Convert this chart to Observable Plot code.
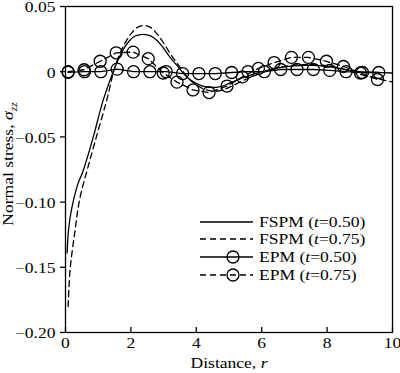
<!DOCTYPE html>
<html>
<head>
<meta charset="utf-8">
<script src="https://cdn.jsdelivr.net/npm/d3@7"></script>
<script src="https://cdn.jsdelivr.net/npm/@observablehq/plot@0.6"></script>
<style>
  html, body { margin: 0; padding: 0; background: #fff; }
  svg { display: block; }
</style>
</head>
<body>
<div id="chart"></div>
<script>
// ---- data ----
const xTicks = [0, 2, 4, 6, 8, 10];
const yTicks = [-0.2, -0.15, -0.1, -0.05, 0, 0.05];
const yTickLabels = ["−0.20", "−0.15", "−0.10", "−0.05", "0", "0.05"];

const fspm050X = [0.05, 0.08, 0.14, 0.24, 0.38, 0.54, 0.85, 1.15, 1.46, 1.7, 1.9, 2.1, 2.3, 2.45, 2.6, 2.8, 3.0, 3.2, 3.4, 3.6, 3.8, 4.0, 4.2, 4.4, 4.6, 4.8, 5.0, 5.5, 6.0, 6.5, 7.0, 7.5, 8.0, 8.5, 9.0, 9.5, 10];
const fspm050Y = [-0.139, -0.125, -0.112, -0.099, -0.086, -0.076, -0.050, -0.022, 0.0, 0.014, 0.022, 0.027, 0.0285, 0.0285, 0.0275, 0.024, 0.018, 0.011, 0.005, -0.001, -0.006, -0.009, -0.011, -0.012, -0.012, -0.011, -0.009, -0.004, 0.0, 0.003, 0.0045, 0.0048, 0.004, 0.002, 0.0, -0.0005, -0.001];

const fspm075X = [0.08, 0.14, 0.29, 0.44, 0.69, 1.0, 1.26, 1.46, 1.6, 1.8, 2.0, 2.2, 2.4, 2.6, 2.8, 3.0, 3.2, 3.4, 3.6, 3.8, 4.0, 4.2, 4.4, 4.6, 4.8, 5.0, 5.5, 6.0, 6.5, 7.0, 7.5, 8.0, 8.5, 9.0, 9.5, 10];
const fspm075Y = [-0.180, -0.152, -0.122, -0.097, -0.073, -0.045, -0.022, -0.001, 0.010, 0.021, 0.029, 0.034, 0.0355, 0.034, 0.029, 0.022, 0.014, 0.007, 0.0, -0.006, -0.010, -0.013, -0.0145, -0.015, -0.014, -0.012, -0.006, -0.001, 0.003, 0.005, 0.0055, 0.0045, 0.002, -0.002, -0.005, -0.008];

const epm050X = [0.08, 0.58, 1.08, 1.58, 2.08, 2.58, 3.08, 3.58, 4.08, 4.58, 5.08, 5.58, 6.08, 6.58, 7.08, 7.58, 8.08, 8.58, 9.08, 9.58];
const epm050Y = [-0.0005, 0.0, 0.0, 0.002, 0.0, 0.0, 0.0, -0.0014, -0.0014, -0.0014, -0.0006, 0.0, 0.0, 0.0017, 0.0017, 0.0017, 0.001, 0.0, -0.0006, -0.0006];

const epm075X = [0.08, 0.57, 1.06, 1.55, 2.07, 2.53, 2.99, 3.41, 3.90, 4.39, 4.94, 5.41, 5.90, 6.38, 6.91, 7.43, 7.98, 8.50, 9.02, 9.54];
const epm075Y = [0.0, 0.0015, 0.008, 0.0145, 0.015, 0.010, -0.001, -0.008, -0.014, -0.016, -0.011, -0.004, 0.0025, 0.007, 0.011, 0.011, 0.008, 0.004, -0.001, -0.006];

const legendLabels = ["FSPM", "FSPM", "EPM", "EPM"];
const legendTimes = ["0.50", "0.75", "0.50", "0.75"];

const toRows = (xs, ys) => xs.map((x, i) => ({x, y: ys[i]}));
const fspm050 = toRows(fspm050X, fspm050Y);
const fspm075 = toRows(fspm075X, fspm075Y);
const epm050 = toRows(epm050X, epm050Y);
const epm075 = toRows(epm075X, epm075Y);

const SW = 1.3;
const DASH = "6,4";
const STRETCH = "scale(1.17,1)";
const font = "'Liberation Serif', 'Times New Roman', serif";

const svg = Plot.plot({
  width: 400,
  height: 373,
  marginLeft: 65,
  marginRight: 8,
  marginTop: 6,
  marginBottom: 41,
  style: {fontFamily: font, fontSize: "15px", background: "white", color: "black"},
  x: {domain: [0, 10]},
  y: {domain: [-0.2, 0.05]},
  marks: [
    Plot.axisX({ticks: xTicks, tickSize: 0, tickPadding: 5, label: null, fontSize: 15, tickFormat: d => String(d)}),
    Plot.axisX({ticks: xTicks, tickSize: -5, tickPadding: 0, label: null, strokeWidth: SW, tickFormat: () => ""}),
    Plot.axisY({ticks: yTicks, tickSize: 5, tickPadding: 5, label: null, fontSize: 15, strokeWidth: SW,
      tickFormat: d => yTickLabels[yTicks.findIndex(t => Math.abs(t - d) < 1e-9)]}),
    Plot.line(fspm050, {x: "x", y: "y", stroke: "black", strokeWidth: SW, curve: "catmull-rom"}),
    Plot.line(fspm075, {x: "x", y: "y", stroke: "black", strokeWidth: SW, strokeDasharray: DASH, curve: "catmull-rom"}),
    Plot.line(epm050, {x: "x", y: "y", stroke: "black", strokeWidth: SW}),
    Plot.line(epm075, {x: "x", y: "y", stroke: "black", strokeWidth: SW, strokeDasharray: DASH}),
    Plot.dot(epm050, {x: "x", y: "y", r: 6, stroke: "black", fill: "none", strokeWidth: SW}),
    Plot.dot(epm075, {x: "x", y: "y", r: 6, stroke: "black", fill: "none", strokeWidth: SW}),
    Plot.frame({stroke: "black", strokeWidth: SW})
  ]
});

const s = d3.select(svg);

// widen tick label glyphs to match the reference typeface proportions
s.selectAll("g[aria-label$='tick label'] text").each(function() {
  const tr = this.getAttribute("transform") || "";
  this.setAttribute("transform", tr + " " + STRETCH);
});
// nudge y tick labels down 1px so the top one is not clipped
s.selectAll("g[aria-label='y-axis tick label'] text").each(function() {
  const tr = this.getAttribute("transform") || "";
  this.setAttribute("transform", "translate(0,1) " + tr);
});

// x-axis label
const xl = s.append("text").attr("transform", "translate(229,368) " + STRETCH).attr("text-anchor", "middle")
  .attr("font-family", font).attr("font-size", 15).attr("fill", "black");
xl.append("tspan").text("Distance, ");
xl.append("tspan").attr("font-style", "italic").text("r");

// y-axis label
const yl = s.append("text").attr("transform", "translate(13,164) rotate(-90) " + STRETCH).attr("text-anchor", "middle")
  .attr("font-family", font).attr("font-size", 15).attr("fill", "black");
yl.append("tspan").text("Normal stress, ");
yl.append("tspan").attr("font-style", "italic").text("σ");
yl.append("tspan").attr("font-style", "italic").attr("font-size", 10).attr("dy", 4).text("zz");

// legend
const rowY = [222, 239, 257, 275];
const dashes = [null, DASH, null, DASH];
const markers = [false, false, true, true];
const g = s.append("g");
rowY.forEach((yy, i) => {
  const ln = g.append("line").attr("x1", 200).attr("x2", 253).attr("y1", yy).attr("y2", yy)
    .attr("stroke", "black").attr("stroke-width", SW);
  if (dashes[i]) ln.attr("stroke-dasharray", dashes[i]);
  if (markers[i]) g.append("circle").attr("cx", 233).attr("cy", yy).attr("r", 6)
    .attr("fill", "none").attr("stroke", "black").attr("stroke-width", SW);
  const t = g.append("text").attr("transform", `translate(259,${yy + 5}) ${STRETCH}`)
    .attr("text-anchor", "start").attr("font-family", font)
    .attr("font-size", 15).attr("fill", "black");
  t.append("tspan").text(legendLabels[i] + " (");
  t.append("tspan").attr("font-style", "italic").text("t");
  t.append("tspan").text("=" + legendTimes[i] + ")");
});

document.getElementById("chart").appendChild(svg);
</script>
</body>
</html>
